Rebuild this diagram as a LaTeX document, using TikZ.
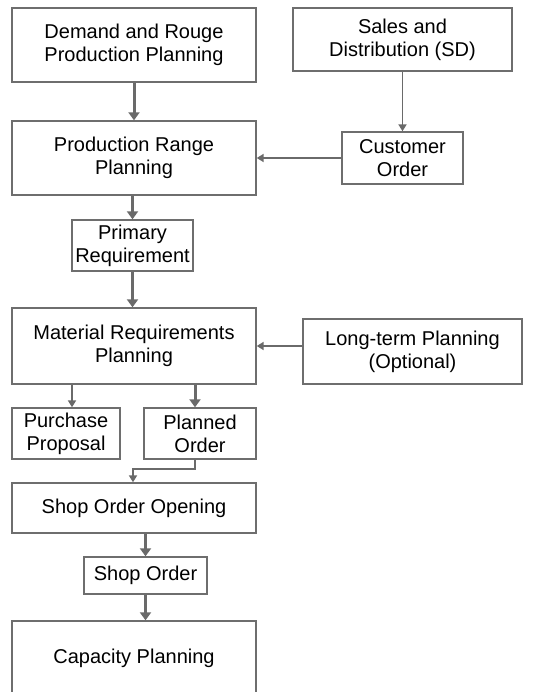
\documentclass[tikz,border=0pt]{standalone}
\usepackage{fontspec}
\setmainfont{Liberation Sans}
\usetikzlibrary{arrows.meta}
\definecolor{boxline}{HTML}{6E6E6E}
\definecolor{arrowc}{HTML}{6A6A6A}
\begin{document}
\begin{tikzpicture}[x=1pt,y=-1pt,
  box/.style={draw=boxline,line width=1.4pt,rectangle,inner sep=0pt,align=center,
    font=\fontsize{20}{23}\selectfont,text=black},
  thickarrow/.style={draw=arrowc,line width=3pt,-{Triangle[width=11pt,length=8pt]}},
  thinarrow/.style={draw=arrowc,line width=1.8pt,-{Triangle[width=8pt,length=7pt]}}]
\useasboundingbox (0,0) rectangle (536,692);
\clip (0,0) rectangle (536,692);
\fill[white] (0,0) rectangle (536,692);
\node[box,minimum width=244pt,minimum height=74pt] (demand) at (134,45) {Demand and Rouge\\Production Planning};
\node[box,minimum width=219pt,minimum height=63pt] (sales) at (402.5,39.5) {Sales and\\Distribution (SD)};
\node[box,minimum width=244pt,minimum height=74pt] (prp) at (134,158) {Production Range\\Planning};
\node[box,minimum width=121pt,minimum height=52pt] (cust) at (402.5,158) {Customer\\Order};
\node[box,minimum width=121pt,minimum height=51pt] (prim) at (132.5,245.5) {Primary\\Requirement};
\node[box,minimum width=244pt,minimum height=76pt] (mrp) at (134,346) {Material Requirements\\Planning};
\node[box,minimum width=219pt,minimum height=65pt] (lt) at (412.5,351.5) {Long-term Planning\\(Optional)};
\node[box,minimum width=108pt,minimum height=51pt] (purch) at (66,433.5) {Purchase\\Proposal};
\node[box,minimum width=112pt,minimum height=51pt] (plan) at (200,433.5) {Planned\\Order};
\node[box,minimum width=244pt,minimum height=50pt] (soo) at (134,508) {Shop Order Opening};
\node[box,minimum width=123pt,minimum height=37pt] (so) at (145.5,575.5) {Shop Order};
\node[box,minimum width=244pt,minimum height=74pt] (cap) at (134,658) {Capacity Planning};
\coordinate (bendA) at (195,469);
\coordinate (bendB) at (133,469);
\draw[thickarrow] (demand.south) -- (prp.north);
\draw[thinarrow] (sales.south) -- (cust.north);
\draw[thinarrow] (cust.west) -- (prp.east);
\draw[thickarrow] (prp.south -| prim.north) -- (prim.north);
\draw[thickarrow] (prim.south) -- (prim.south |- mrp.north);
\draw[thinarrow] (lt.west |- mrp.east) -- (mrp.east);
\draw[thinarrow] ([xshift=6pt]purch.north |- mrp.south) -- ([xshift=6pt]purch.north);
\draw[thickarrow] ([xshift=-5pt]plan.north |- mrp.south) -- ([xshift=-5pt]plan.north);
\draw[thinarrow] ([xshift=-5pt]plan.south) -- (bendA) -- (bendB) -- (bendB |- soo.north);
\draw[thickarrow] (soo.south -| so.north) -- (so.north);
\draw[thickarrow] (so.south) -- (so.south |- cap.north);
\end{tikzpicture}
\end{document}
